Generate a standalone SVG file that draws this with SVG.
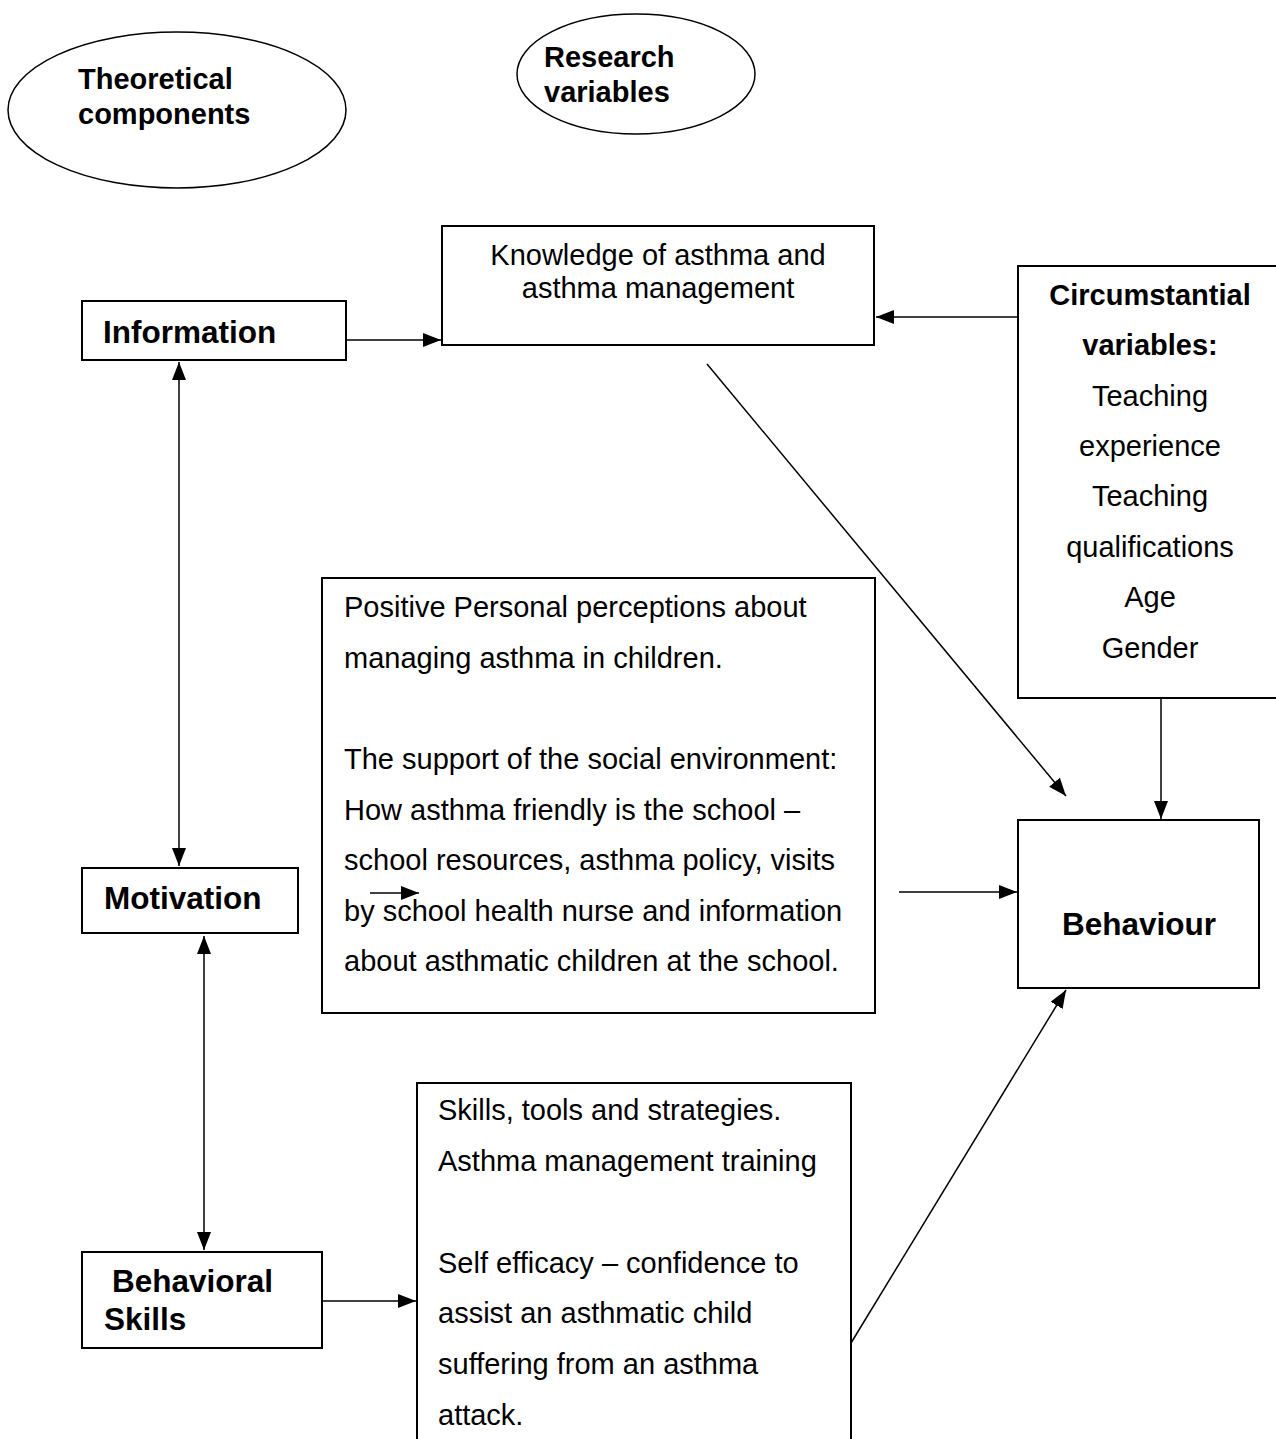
<svg xmlns="http://www.w3.org/2000/svg" width="1276" height="1439" viewBox="0 0 1276 1439">
<style>
.box{fill:#fff;stroke:#000;stroke-width:2}
.ell{fill:#fff;stroke:#000;stroke-width:1.5}
.t{font-family:"Liberation Sans",Arial,sans-serif;font-size:29px;fill:#000}
.b{font-weight:bold}
.bb{font-family:"Liberation Sans",Arial,sans-serif;font-size:31.5px;font-weight:bold;fill:#000}
.c{text-anchor:middle}
.ln{stroke:#000;stroke-width:1.5;fill:none}
</style>
<defs>
<marker id="ah" markerWidth="18" markerHeight="14" refX="18" refY="7" orient="auto" markerUnits="userSpaceOnUse"><path d="M0,0 L18,7 L0,14 Z" fill="#000"/></marker>
<marker id="as" markerWidth="18" markerHeight="14" refX="0" refY="7" orient="auto" markerUnits="userSpaceOnUse"><path d="M18,0 L0,7 L18,14 Z" fill="#000"/></marker>
</defs>
<rect width="1276" height="1439" fill="#fff"/>

<g id="theoretical">
<ellipse class="ell" cx="177" cy="110" rx="169" ry="78"/>
<text class="t b" x="78" y="89">Theoretical</text>
<text class="t b" x="78" y="124">components</text>
</g>
<g id="research">
<ellipse class="ell" cx="636" cy="74" rx="119" ry="60"/>
<text class="t b" x="544" y="67">Research</text>
<text class="t b" x="544" y="102">variables</text>
</g>

<g id="information">
<rect class="box" x="82" y="301" width="264" height="59"/>
<text class="bb" x="103" y="343">Information</text>
</g>
<g id="knowledge">
<rect class="box" x="442" y="226" width="432" height="119"/>
<text class="t c" x="658" y="265">Knowledge of asthma and</text>
<text class="t c" x="658" y="298">asthma management</text>
</g>
<g id="circumstantial">
<rect class="box" x="1018" y="266" width="270" height="432"/>
<text class="t b c" x="1150" y="305">Circumstantial</text>
<text class="t b c" x="1150" y="355">variables:</text>
<text class="t c" x="1150" y="406">Teaching</text>
<text class="t c" x="1150" y="456">experience</text>
<text class="t c" x="1150" y="506">Teaching</text>
<text class="t c" x="1150" y="557">qualifications</text>
<text class="t c" x="1150" y="607">Age</text>
<text class="t c" x="1150" y="658">Gender</text>
</g>
<g id="perceptions">
<rect class="box" x="322" y="578" width="553" height="435"/>
<text class="t" x="344" y="617">Positive Personal perceptions about</text>
<text class="t" x="344" y="668">managing asthma in children.</text>
<text class="t" x="344" y="769">The support of the social environment:</text>
<text class="t" x="344" y="820">How asthma friendly is the school –</text>
<text class="t" x="344" y="870">school resources, asthma policy, visits</text>
<text class="t" x="344" y="921">by school health nurse and information</text>
<text class="t" x="344" y="971">about asthmatic children at the school.</text>
</g>
<g id="motivation">
<rect class="box" x="82" y="868" width="216" height="65"/>
<text class="bb" x="104" y="909">Motivation</text>
</g>
<g id="behavioral-skills">
<rect class="box" x="82" y="1252" width="240" height="96"/>
<text class="bb" x="112" y="1292">Behavioral</text>
<text class="bb" x="104" y="1330">Skills</text>
</g>
<g id="skills">
<rect class="box" x="417" y="1083" width="434" height="370"/>
<text class="t" x="438" y="1120">Skills, tools and strategies.</text>
<text class="t" x="438" y="1171">Asthma management training</text>
<text class="t" x="438" y="1273">Self efficacy – confidence to</text>
<text class="t" x="438" y="1323">assist an asthmatic child</text>
<text class="t" x="438" y="1374">suffering from an asthma</text>
<text class="t" x="438" y="1425">attack.</text>
</g>
<g id="behaviour">
<rect class="box" x="1018" y="820" width="241" height="168"/>
<text class="bb c" x="1139" y="935">Behaviour</text>
</g>

<g id="connectors">
<line class="ln" x1="347" y1="340" x2="441" y2="340" marker-end="url(#ah)"/>
<line class="ln" x1="1017" y1="317" x2="876" y2="317" marker-end="url(#ah)"/>
<line class="ln" x1="707" y1="364" x2="1066" y2="796" marker-end="url(#ah)"/>
<line class="ln" x1="1161" y1="699" x2="1161" y2="819" marker-end="url(#ah)"/>
<line class="ln" x1="899" y1="892" x2="1017" y2="892" marker-end="url(#ah)"/>
<line class="ln" x1="851" y1="1343" x2="1066" y2="990" marker-end="url(#ah)"/>
<line class="ln" x1="179" y1="362" x2="179" y2="866" marker-start="url(#as)" marker-end="url(#ah)"/>
<line class="ln" x1="204" y1="936" x2="204" y2="1250" marker-start="url(#as)" marker-end="url(#ah)"/>
<line class="ln" x1="323" y1="1301" x2="416" y2="1301" marker-end="url(#ah)"/>
<line class="ln" x1="370" y1="893" x2="419" y2="893" marker-end="url(#ah)"/>
</g>
</svg>
